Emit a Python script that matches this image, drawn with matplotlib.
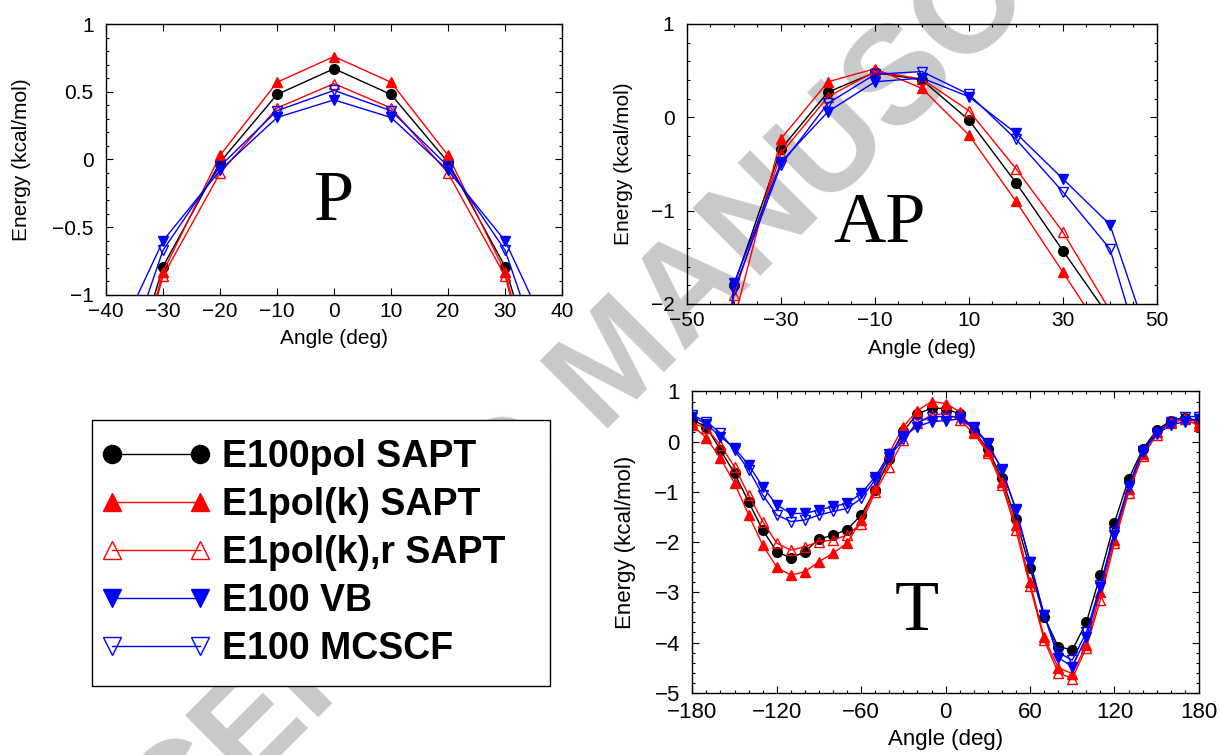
import numpy as np
import matplotlib
matplotlib.use('Agg')
import matplotlib.pyplot as plt
from matplotlib.ticker import MultipleLocator, FuncFormatter
from matplotlib.legend_handler import HandlerLine2D

plt.rcParams['font.family'] = ['Liberation Sans', 'DejaVu Sans']

labels = ['E100pol SAPT', 'E1pol(k) SAPT', 'E1pol(k),r SAPT', 'E100 VB', 'E100 MCSCF']

# P panel (points at +-40 lie outside the frame)
p_angle = [-40, -30, -20, -10, 0, 10, 20, 30, 40]
p_e100pol = [-2.2, -0.79, -0.02, 0.48, 0.67, 0.48, -0.02, -0.79, -2.2]
p_e1polk = [-2.4, -0.83, 0.03, 0.57, 0.76, 0.57, 0.03, -0.83, -2.4]
p_e1polkr = [-2.4, -0.86, -0.10, 0.38, 0.56, 0.38, -0.10, -0.86, -2.4]
p_vb = [-1.5, -0.60, -0.08, 0.31, 0.44, 0.31, -0.08, -0.60, -1.5]
p_mcscf = [-1.9, -0.67, -0.05, 0.36, 0.51, 0.36, -0.05, -0.67, -1.9]

# AP panel
ap_angle = [-50, -40, -30, -20, -10, 0, 10, 20, 30, 40, 50]
ap_e100pol = [-7.0, -1.80, -0.34, 0.27, 0.48, 0.40, -0.03, -0.70, -1.43, -2.15, -2.9]
ap_e1polk = [-7.0, -2.18, -0.23, 0.38, 0.52, 0.31, -0.19, -0.90, -1.66, -2.43, -3.2]
ap_e1polkr = [-7.0, -1.90, -0.39, 0.22, 0.49, 0.41, 0.07, -0.55, -1.23, -2.07, -2.9]
ap_vb = [-7.0, -1.78, -0.48, 0.06, 0.38, 0.42, 0.22, -0.17, -0.66, -1.15, -2.64]
ap_mcscf = [-7.0, -1.85, -0.51, 0.15, 0.46, 0.49, 0.245, -0.235, -0.80, -1.41, -3.1]

# T panel
t_angle = list(range(-180, 181, 10))
t_e100pol = [0.43, 0.30, -0.17, -0.63, -1.20, -1.76, -2.19, -2.32, -2.19, -1.94, -1.86, -1.75, -1.46,
             -0.96, -0.35, 0.22, 0.55, 0.67, 0.66, 0.55, 0.22, -0.15, -0.73, -1.55, -2.52, -3.49,
             -4.08, -4.15, -3.60, -2.65, -1.61, -0.75, -0.15, 0.23, 0.42, 0.48, 0.42]
t_e1polk = [0.33, 0.07, -0.33, -0.83, -1.46, -2.06, -2.50, -2.66, -2.59, -2.39, -2.22, -2.02, -1.56,
            -0.93, -0.22, 0.30, 0.62, 0.80, 0.76, 0.60, 0.20, -0.18, -0.80, -1.65, -2.80, -3.90,
            -4.50, -4.62, -4.05, -3.00, -1.95, -0.95, -0.25, 0.20, 0.37, 0.45, 0.32]
t_e1polkr = [0.37, 0.27, -0.07, -0.50, -1.06, -1.59, -2.02, -2.16, -2.09, -1.99, -1.96, -1.86, -1.63,
             -1.00, -0.50, 0.03, 0.37, 0.53, 0.56, 0.43, 0.17, -0.22, -0.86, -1.76, -2.88, -3.95,
             -4.60, -4.72, -4.10, -3.15, -2.02, -1.02, -0.28, 0.13, 0.42, 0.48, 0.37]
t_vb = [0.50, 0.35, 0.10, -0.13, -0.46, -0.90, -1.26, -1.43, -1.43, -1.36, -1.29, -1.23, -1.03,
        -0.70, -0.25, 0.12, 0.30, 0.40, 0.42, 0.45, 0.27, -0.05, -0.55, -1.35, -2.40, -3.45,
        -4.30, -4.48, -3.90, -2.90, -1.85, -0.90, -0.20, 0.15, 0.33, 0.40, 0.45]
t_mcscf = [0.53, 0.40, 0.17, -0.17, -0.56, -1.06, -1.46, -1.59, -1.56, -1.46, -1.39, -1.33, -1.13,
           -0.76, -0.30, 0.05, 0.38, 0.50, 0.50, 0.50, 0.30, -0.03, -0.56, -1.36, -2.39, -3.45,
           -4.20, -4.35, -3.80, -2.85, -1.79, -0.88, -0.18, 0.18, 0.40, 0.50, 0.50]

colors = ['black', 'red', 'red', 'blue', 'blue']
markers = ['o', '^', '^', 'v', 'v']
filled = [True, True, False, True, False]

fig = plt.figure(figsize=(12.2, 7.55), dpi=100)
fig.patch.set_facecolor('white')

# watermark behind everything
fig.text(0.5082, 0.5152, 'ACCEPTED MANUSCRIPT', fontsize=100, fontweight='bold',
         color='#c8c9ca', rotation=45, ha='center', va='center', zorder=-1)

axP = fig.add_axes([0.0869, 0.6093, 0.3738, 0.3589])
axAP = fig.add_axes([0.5631, 0.5974, 0.3852, 0.3709])
axT = fig.add_axes([0.5675, 0.0825, 0.4152, 0.3990])


def draw(ax, x, series, ms=7):
    lines = []
    for y, c, m, f, lab in zip(series, colors, markers, filled, labels):
        ln, = ax.plot(x, y, color=c, marker=m, ms=ms, mew=1.0, lw=1.0,
                      mfc=c if f else 'none', mec=c, label=lab)
        lines.append(ln)
    return lines


def style(ax, fs, xlab_y, ylab_x):
    ax.set_facecolor('none')
    ax.tick_params(which='both', direction='in', top=True, right=True, width=0.8)
    ax.tick_params(which='major', length=5)
    ax.tick_params(which='minor', length=2.5)
    ax.tick_params(axis='x', labelsize=fs, pad=5)
    ax.tick_params(axis='y', labelsize=fs, pad=9)
    for s in ax.spines.values():
        s.set_linewidth(1.0)
    ax.set_xlabel('Angle (deg)', fontsize=fs)
    ax.set_ylabel('Energy (kcal/mol)', fontsize=fs)
    ax.xaxis.set_label_coords(0.5, xlab_y)
    ax.yaxis.set_label_coords(ylab_x, 0.5)


fmt = FuncFormatter(lambda v, p: f'{v:g}'.replace('-', '\u2212'))

handles = draw(axP, p_angle, [p_e100pol, p_e1polk, p_e1polkr, p_vb, p_mcscf])
axP.set_xlim(-40, 40)
axP.set_ylim(-1, 1)
axP.xaxis.set_major_locator(MultipleLocator(10))
axP.yaxis.set_major_locator(MultipleLocator(0.5))
axP.yaxis.set_minor_locator(MultipleLocator(0.1))
axP.yaxis.set_major_formatter(fmt)
style(axP, 15, -0.125, -0.164)
axP.text(0, -0.447, 'P', family='Liberation Serif', fontsize=52, ha='center', va='baseline')

draw(axAP, ap_angle, [ap_e100pol, ap_e1polk, ap_e1polkr, ap_vb, ap_mcscf])
axAP.set_xlim(-50, 50)
axAP.set_ylim(-2, 1)
axAP.set_xticks([-50, -30, -10, 10, 30, 50])
axAP.xaxis.set_minor_locator(MultipleLocator(5))
axAP.yaxis.set_major_locator(MultipleLocator(1))
axAP.yaxis.set_minor_locator(MultipleLocator(0.2))
style(axAP, 15, -0.125, -0.115)
axAP.text(-9.1, -1.336, 'AP', family='Liberation Serif', fontsize=52, ha='center', va='baseline')

draw(axT, t_angle, [t_e100pol, t_e1polk, t_e1polkr, t_vb, t_mcscf])
axT.set_xlim(-180, 180)
axT.set_ylim(-5, 1)
axT.xaxis.set_major_locator(MultipleLocator(60))
axT.xaxis.set_minor_locator(MultipleLocator(10))
axT.yaxis.set_major_locator(MultipleLocator(1))
axT.yaxis.set_minor_locator(MultipleLocator(0.2))
style(axT, 16, -0.12, -0.111)
axT.tick_params(axis='x', pad=7)
axT.text(-20.4, -3.75, 'T', family='Liberation Serif', fontsize=52, ha='center', va='baseline')

leg = fig.legend(handles, labels, loc='upper left', numpoints=2,
                 bbox_to_anchor=(91.7 / 1220, 1 - 682.7 / 755, 458.3 / 1220, 262.7 / 755),
                 mode='expand', borderaxespad=0, borderpad=0.5, labelspacing=0.32,
                 handlelength=2.45, handletextpad=0.52, markerscale=13 / 7,
                 prop={'family': 'Liberation Sans', 'weight': 'bold', 'size': 27},
                 fancybox=False, framealpha=1, edgecolor='black',
                 handler_map={h: HandlerLine2D(marker_pad=0.05) for h in handles})
leg.get_frame().set_linewidth(1.0)
leg.set_zorder(5)

fig.savefig('out.png', dpi=100)
